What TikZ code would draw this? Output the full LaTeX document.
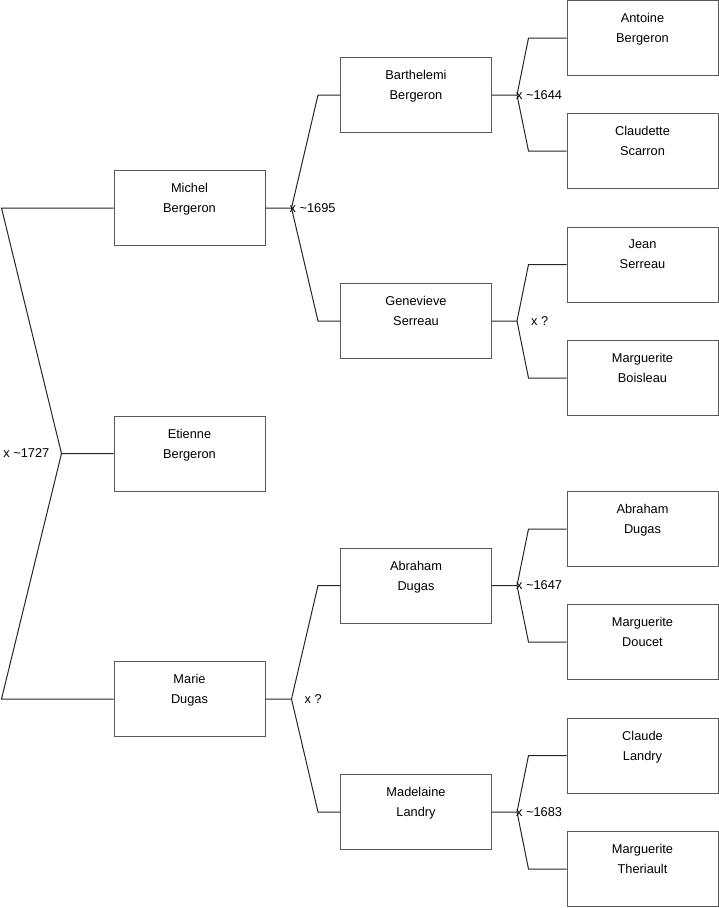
\documentclass[tikz,border=0pt]{standalone}
\usepackage{fontspec}
\setmainfont{Liberation Sans}
\usetikzlibrary{calc}
\tikzset{
  person/.style={rectangle, draw=black!65, line width=1pt, minimum width=151pt,
    minimum height=75pt, inner sep=0pt, align=center,
    font=\fontsize{12.8}{20}\selectfont},
  tie/.style={draw=black!85, line width=1pt},
  marr/.style={inner sep=0pt, font=\fontsize{12.8}{15}\selectfont}
}
% name on two lines, pushed up in the box
\newcommand{\who}[2]{#1\\#2\\\mbox{}}

\begin{document}
\begin{tikzpicture}[x=1pt, y=-1pt]
  \useasboundingbox (0,0) rectangle (719,908);
  % Generation 1
  \node[person] (michel)  at (189.5,208)   {\who{Michel}{Bergeron}};
  \node[person] (etienne) at (189.5,453.5) {\who{Etienne}{Bergeron}};
  \node[person] (marie)   at (189.5,699)   {\who{Marie}{Dugas}};
  % Generation 2
  \node[person] (barthelemi) at (416,95)    {\who{Barthelemi}{Bergeron}};
  \node[person] (genevieve)  at (416,321)   {\who{Genevieve}{Serreau}};
  \node[person] (abraham)    at (416,585.5) {\who{Abraham}{Dugas}};
  \node[person] (madelaine)  at (416,812)   {\who{Madelaine}{Landry}};
  % Generation 3
  \node[person] (antoine)   at (642.5,38)    {\who{Antoine}{Bergeron}};
  \node[person] (claudette) at (642.5,151)   {\who{Claudette}{Scarron}};
  \node[person] (jean)      at (642.5,264.5) {\who{Jean}{Serreau}};
  \node[person] (boisleau)  at (642.5,378)   {\who{Marguerite}{Boisleau}};
  \node[person] (abrahamd)  at (642.5,529)   {\who{Abraham}{Dugas}};
  \node[person] (doucet)    at (642.5,642)   {\who{Marguerite}{Doucet}};
  \node[person] (claude)    at (642.5,755.5) {\who{Claude}{Landry}};
  \node[person] (theriault) at (642.5,869)   {\who{Marguerite}{Theriault}};

  % Parents of Etienne
  \coordinate (j-etienne) at ($(etienne.west)+(-52,0)$);
  \draw[tie] (etienne.west) -- (j-etienne) -- ($(michel.west)+(-112,0)$) -- (michel.west);
  \draw[tie] (j-etienne) -- ($(marie.west)+(-112,0)$) -- (marie.west);

  % Other couples: child/father/mother/junction/bend
  \foreach \c/\f/\m/\dj/\db in {michel/barthelemi/genevieve/26/22,
      marie/abraham/madelaine/26/22, barthelemi/antoine/claudette/25/38,
      genevieve/jean/boisleau/25/38, abraham/abrahamd/doucet/25/38,
      madelaine/claude/theriault/25/38} {
    \coordinate (j-\c) at ($(\c.east)+(\dj,0)$);
    \draw[tie] (\c.east) -- (j-\c) -- ($(\f.west)+(-\db,0)$) -- (\f.west);
    \draw[tie] (j-\c) -- ($(\m.west)+(-\db,0)$) -- (\m.west);
  }

  % Marriage dates
  \node[marr, anchor=east] (m-etienne)    at ($(j-etienne)+(-12,0)$)   {x \textasciitilde1727};
  \node[marr, anchor=west] (m-michel)     at ($(j-michel)+(-2,0)$)     {x \textasciitilde1695};
  \node[marr, anchor=west] (m-marie)      at ($(j-marie)+(13,0)$)      {x ?};
  \node[marr, anchor=west] (m-barthelemi) at ($(j-barthelemi)+(-1,0)$) {x \textasciitilde1644};
  \node[marr, anchor=west] (m-genevieve)  at ($(j-genevieve)+(14,0)$)  {x ?};
  \node[marr, anchor=west] (m-abraham)    at ($(j-abraham)+(-1,0)$)    {x \textasciitilde1647};
  \node[marr, anchor=west] (m-madelaine)  at ($(j-madelaine)+(-1,0)$)  {x \textasciitilde1683};
\end{tikzpicture}
\end{document}
